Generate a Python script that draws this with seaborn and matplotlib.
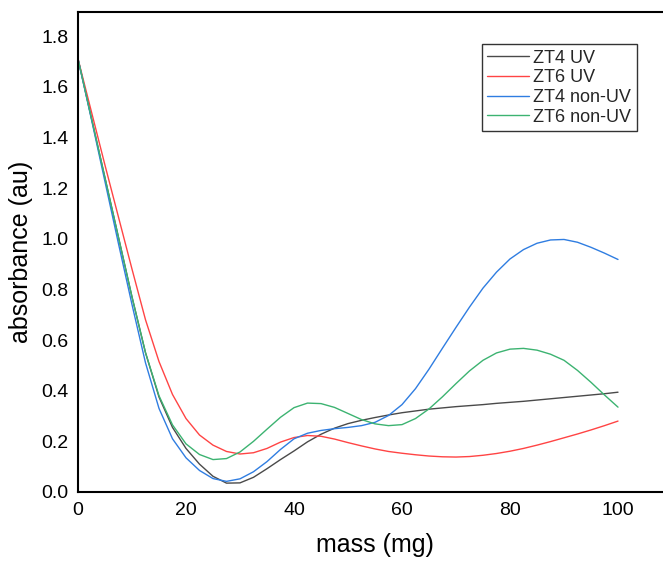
import pandas as pd
import matplotlib
matplotlib.use("Agg")
import matplotlib.pyplot as plt
import seaborn as sns

mass = [0, 2.5, 5, 7.5, 10, 12.5, 15, 17.5, 20, 22.5, 25, 27.5, 30, 32.5, 35, 37.5,
        40, 42.5, 45, 47.5, 50, 52.5, 55, 57.5, 60, 62.5, 65, 67.5, 70, 72.5, 75, 77.5,
        80, 82.5, 85, 87.5, 90, 92.5, 95, 97.5, 100]

zt4_uv = [1.71, 1.475, 1.24, 1.005, 0.77, 0.55, 0.375, 0.255, 0.172, 0.11, 0.062, 0.035, 0.036,
          0.058, 0.092, 0.128, 0.162, 0.198, 0.228, 0.252, 0.27, 0.283, 0.294, 0.304, 0.313,
          0.32, 0.327, 0.332, 0.337, 0.341, 0.345, 0.35, 0.354, 0.358, 0.363, 0.368, 0.373,
          0.378, 0.383, 0.388, 0.394]
zt6_uv = [1.71, 1.50, 1.29, 1.085, 0.88, 0.68, 0.515, 0.385, 0.29, 0.225, 0.185, 0.16, 0.15,
          0.155, 0.172, 0.197, 0.215, 0.223, 0.22, 0.209, 0.195, 0.182, 0.17, 0.16, 0.153,
          0.147, 0.142, 0.139, 0.138, 0.14, 0.145, 0.152, 0.161, 0.172, 0.185, 0.199, 0.214,
          0.229, 0.245, 0.262, 0.28]
zt4_nonuv = [1.71, 1.47, 1.225, 0.98, 0.74, 0.51, 0.33, 0.21, 0.135, 0.085, 0.053, 0.042, 0.052,
             0.08, 0.12, 0.168, 0.21, 0.232, 0.243, 0.25, 0.255, 0.262, 0.275, 0.302, 0.345,
             0.408, 0.485, 0.568, 0.65, 0.73, 0.805, 0.868, 0.92, 0.957, 0.982, 0.995, 0.997,
             0.986, 0.966, 0.943, 0.918]
zt6_nonuv = [1.71, 1.475, 1.24, 1.005, 0.77, 0.55, 0.38, 0.265, 0.19, 0.148, 0.128, 0.132, 0.158,
             0.20, 0.248, 0.295, 0.333, 0.351, 0.349, 0.334, 0.31, 0.286, 0.269, 0.262, 0.266,
             0.29, 0.328, 0.376, 0.428, 0.478, 0.52, 0.549, 0.564, 0.567, 0.56, 0.544, 0.52,
             0.48, 0.433, 0.383, 0.335]

labels = ['ZT4 UV', 'ZT6 UV', 'ZT4 non-UV', 'ZT6 non-UV']
colors = ['#4a4a4a', '#ff4444', '#2f7de1', '#3cb371']

df = pd.concat([
    pd.DataFrame({'mass': mass, 'absorbance': vals, 'sample': lab})
    for lab, vals in zip(labels, [zt4_uv, zt6_uv, zt4_nonuv, zt6_nonuv])
])

sns.set_style("white")
plt.rcParams['font.family'] = ['Liberation Sans', 'DejaVu Sans']

fig = plt.figure(figsize=(6.63, 5.62), dpi=100)
ax = fig.add_axes([78 / 663, 70 / 562, 594 / 663, 480 / 562])

sns.lineplot(data=df, x='mass', y='absorbance', hue='sample', hue_order=labels,
             palette=colors, linewidth=1.0, ax=ax, sort=False)

ax.set_xlim(0, 110)
ax.set_ylim(0, 1.895)
ax.set_xticks([0, 20, 40, 60, 80, 100])
ax.set_yticks([0.0, 0.2, 0.4, 0.6, 0.8, 1.0, 1.2, 1.4, 1.6, 1.8])
ax.set_yticklabels([f'{v:.1f}' for v in ax.get_yticks()])
ax.tick_params(axis='both', labelsize=14, length=0, pad=7, labelcolor='black')
ax.set_xlabel('mass (mg)', fontsize=18, labelpad=10, color='black')
ax.set_ylabel('absorbance (au)', fontsize=18, labelpad=6, color='black')

for side in ['left', 'bottom', 'top']:
    ax.spines[side].set_color('black')
    ax.spines[side].set_linewidth(1.5)
ax.spines['right'].set_visible(False)

leg = ax.legend(loc='upper left', bbox_to_anchor=(0.680, 0.933), fontsize=13,
                frameon=True, fancybox=False, edgecolor='black', handlelength=2.3,
                borderpad=0.3, labelspacing=0.15, handletextpad=0.25, borderaxespad=0)
leg.get_frame().set_linewidth(1.0)
leg.set_title(None)

fig.savefig('out.png', dpi=100)
